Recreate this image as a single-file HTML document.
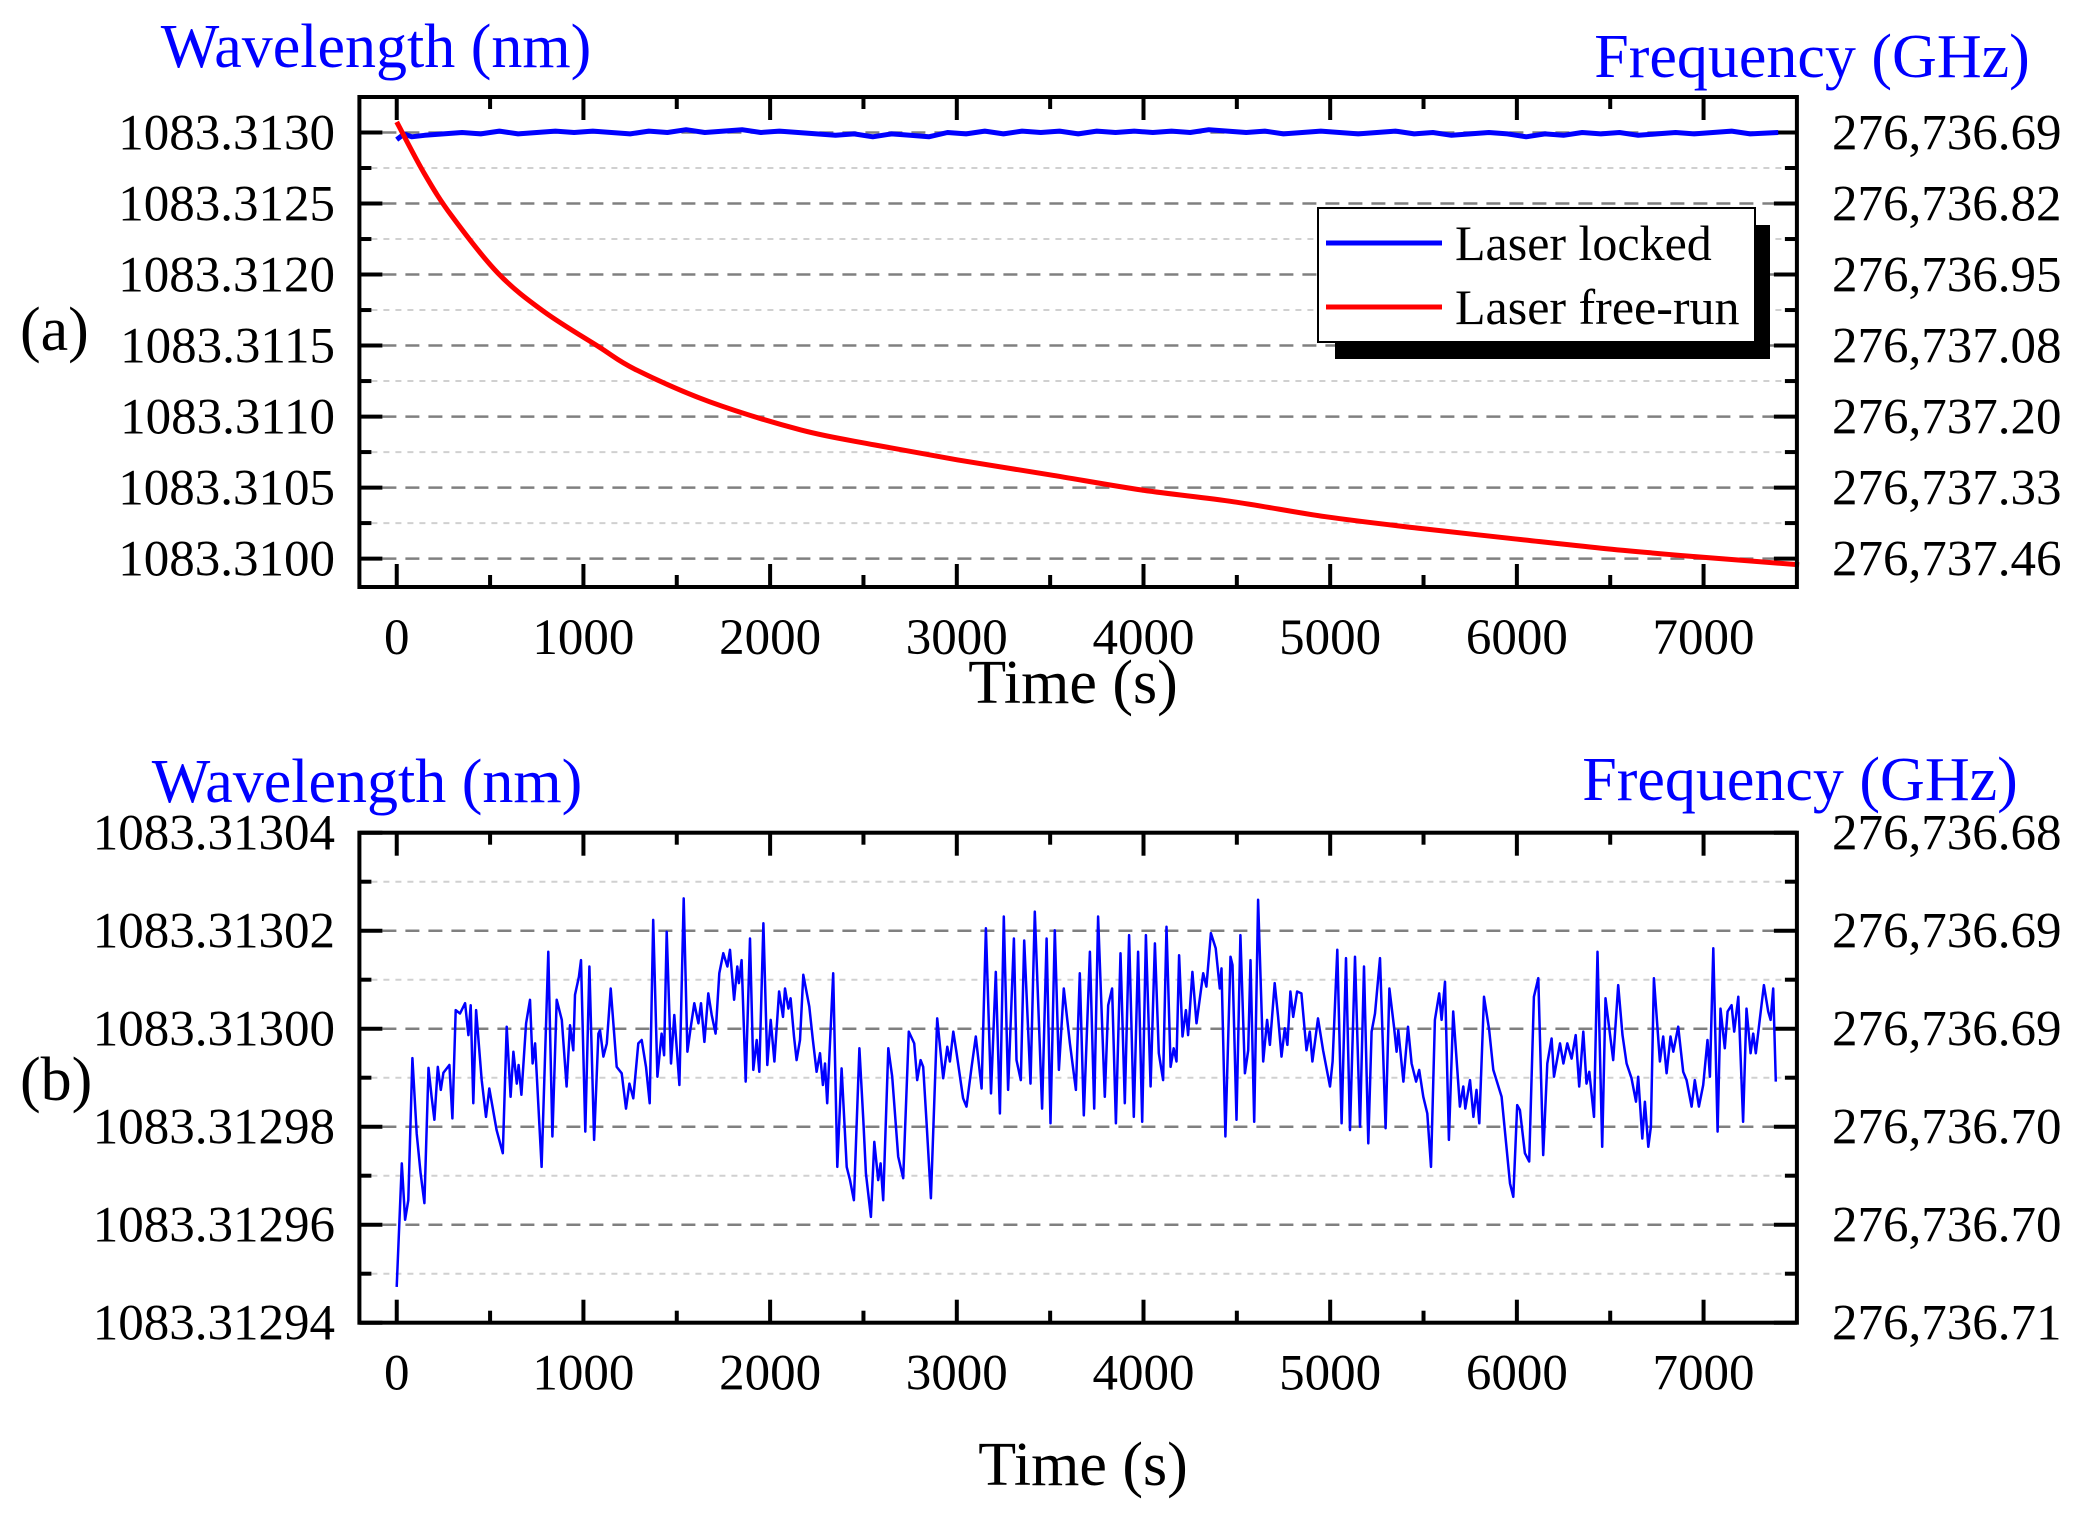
<!DOCTYPE html>
<html><head><meta charset="utf-8"><style>
html,body{margin:0;padding:0;background:#fff;}
svg{display:block;font-family:"Liberation Serif","Times New Roman",serif;}
</style></head><body>
<svg id="chart" width="2076" height="1518" viewBox="0 0 2076 1518" xmlns="http://www.w3.org/2000/svg">
<text x="20" y="350" font-size="62">(a)</text>
<text x="20" y="1100" font-size="62">(b)</text>
<text x="376" y="67" font-size="62" fill="#0000ff" text-anchor="middle">Wavelength (nm)</text>
<text x="1812" y="77" font-size="62" fill="#0000ff" text-anchor="middle">Frequency (GHz)</text>
<text x="1073" y="703" font-size="62" text-anchor="middle">Time (s)</text>
<text x="367" y="802" font-size="62" fill="#0000ff" text-anchor="middle">Wavelength (nm)</text>
<text x="1800" y="800" font-size="62" fill="#0000ff" text-anchor="middle">Frequency (GHz)</text>
<text x="1083" y="1485" font-size="62" text-anchor="middle">Time (s)</text>
<g id="gA"></g>
<g id="gB"></g>
<g id="legend">
<rect x="1335" y="225" width="435" height="134" fill="#000"/>
<rect x="1318" y="208" width="437" height="134" fill="#fff" stroke="#000" stroke-width="2"/>
<line x1="1326" y1="243" x2="1442" y2="243" stroke="#0000ff" stroke-width="5"/>
<text x="1455" y="260" font-size="50">Laser locked</text>
<line x1="1326" y1="307" x2="1442" y2="307" stroke="#ff0000" stroke-width="5"/>
<text x="1455" y="324" font-size="50">Laser free-run</text>
</g>
</svg>
<script>
// ---------- data ----------
const xTicks = [0,1000,2000,3000,4000,5000,6000,7000];
const aLeftTicks = [1083.3130,1083.3125,1083.3120,1083.3115,1083.3110,1083.3105,1083.3100];
const aLeftLabels = ["1083.3130","1083.3125","1083.3120","1083.3115","1083.3110","1083.3105","1083.3100"];
const aRightLabels = ["276,736.69","276,736.82","276,736.95","276,737.08","276,737.20","276,737.33","276,737.46"];
const bLeftTicks = [1083.31304,1083.31302,1083.31300,1083.31298,1083.31296,1083.31294];
const bLeftLabels = ["1083.31304","1083.31302","1083.31300","1083.31298","1083.31296","1083.31294"];
const bRightLabels = ["276,736.68","276,736.69","276,736.69","276,736.70","276,736.70","276,736.71"];

const freeTime = [0,148,296,542,788,1084,1281,1675,2167,2562,3005,3498,3990,4483,4975,5468,5961,6453,6946,7512];
const freeWl = [1083.313075,1083.31271,1083.31241,1083.31201,1083.31174,1083.31149,1083.31133,1083.311105,1083.310905,1083.3108,1083.310695,1083.31059,1083.310483,1083.3104,1083.310295,1083.310215,1083.310143,1083.310073,1083.310015,1083.309956];

const lockTime = [0,40,80,150,250,350,450,550,650,750,850,950,1050,1150,1250,1350,1450,1550,1650,1750,1850,1950,2050,2150,2250,2350,2450,2550,2650,2750,2850,2950,3050,3150,3250,3350,3450,3550,3650,3750,3850,3950,4050,4150,4250,4350,4450,4550,4650,4750,4850,4950,5050,5150,5250,5350,5450,5550,5650,5750,5850,5950,6050,6150,6250,6350,6450,6550,6650,6750,6850,6950,7050,7150,7250,7400];
const lockWl = [1083.31295,1083.31299,1083.31297,1083.31298,1083.31299,1083.31300,1083.31299,1083.31301,1083.31299,1083.31300,1083.31301,1083.31300,1083.31301,1083.31300,1083.31299,1083.31301,1083.31300,1083.31302,1083.31300,1083.31301,1083.31302,1083.31300,1083.31301,1083.31300,1083.31299,1083.31298,1083.31299,1083.31297,1083.31299,1083.31298,1083.31297,1083.31300,1083.31299,1083.31301,1083.31299,1083.31301,1083.31300,1083.31301,1083.31299,1083.31301,1083.31300,1083.31301,1083.31300,1083.31301,1083.31300,1083.31302,1083.31301,1083.31300,1083.31301,1083.31299,1083.31300,1083.31301,1083.31300,1083.31299,1083.31300,1083.31301,1083.31299,1083.31300,1083.31298,1083.31299,1083.31300,1083.31299,1083.31297,1083.31299,1083.31298,1083.31300,1083.31299,1083.31300,1083.31298,1083.31299,1083.31300,1083.31299,1083.31300,1083.31301,1083.31299,1083.31300];

// panel b: offsets from 1083.31300 nm in units of 1e-5 nm
const bBase = 1083.31300;
const bTime = [0,27,45,62,84,107,128,148,170,187,202,220,236,250,282,298,316,339,366,384,396,410,425,455,478,496,535,568,589,610,625,643,653,668,693,714,728,741,776,812,834,857,884,910,928,946,955,976,987,1010,1032,1057,1080,1089,1107,1125,1146,1178,1205,1228,1246,1267,1294,1312,1335,1355,1374,1396,1419,1432,1446,1469,1487,1514,1537,1557,1574,1594,1616,1630,1648,1669,1687,1708,1728,1749,1771,1785,1807,1824,1833,1847,1869,1892,1910,1928,1942,1964,1985,2003,2023,2048,2069,2080,2098,2110,2128,2142,2160,2178,2210,2228,2249,2267,2283,2294,2306,2338,2360,2383,2410,2428,2449,2478,2499,2513,2540,2558,2579,2592,2606,2633,2654,2686,2713,2743,2772,2788,2806,2820,2838,2861,2895,2927,2949,2963,2981,2999,3034,3052,3079,3102,3133,3156,3183,3209,3231,3252,3275,3306,3320,3343,3361,3395,3418,3457,3481,3502,3525,3547,3573,3606,3638,3659,3680,3713,3736,3757,3793,3811,3832,3852,3877,3900,3923,3948,3971,3993,4013,4038,4061,4082,4105,4123,4145,4162,4177,4191,4209,4227,4239,4262,4284,4320,4337,4361,4387,4409,4418,4439,4466,4477,4498,4519,4543,4561,4573,4593,4614,4641,4662,4677,4703,4721,4739,4757,4771,4787,4802,4823,4846,4873,4891,4905,4935,4962,4999,5013,5038,5061,5085,5106,5133,5160,5181,5204,5222,5240,5267,5297,5317,5342,5356,5365,5392,5417,5436,5460,5477,5499,5520,5540,5561,5584,5597,5615,5636,5659,5695,5713,5724,5749,5767,5784,5799,5824,5852,5874,5918,5963,5981,6002,6016,6043,6066,6091,6115,6141,6163,6186,6199,6231,6249,6270,6293,6315,6334,6356,6373,6388,6413,6432,6457,6475,6516,6543,6566,6588,6614,6638,6650,6672,6686,6704,6718,6734,6766,6784,6802,6823,6838,6864,6891,6909,6936,6953,6975,6998,7021,7034,7052,7075,7091,7114,7129,7150,7164,7186,7212,7230,7252,7266,7280,7302,7323,7346,7359,7373,7387];
const bOffset = [-5.27,-2.75,-3.9,-3.5,-0.6,-2.14,-2.95,-3.56,-0.8,-1.39,-1.86,-0.78,-1.25,-0.9,-0.74,-1.83,0.38,0.31,0.52,-0.13,0.48,-1.52,0.38,-1.05,-1.8,-1.22,-2.07,-2.54,0.04,-1.39,-0.47,-1.12,-0.74,-1.35,0.11,0.59,-0.71,-0.3,-2.82,1.57,-2.2,0.59,0.18,-1.18,0.07,-0.44,0.69,1.06,1.4,-2.1,1.27,-2.27,-0.1,-0.03,-0.57,-0.3,0.82,-0.78,-0.91,-1.63,-1.12,-1.42,-0.3,-0.23,-0.78,-1.52,2.22,-0.98,-0.1,-0.54,1.98,-0.71,0.28,-1.15,2.66,-0.47,0.01,0.52,0.11,0.52,-0.27,0.72,0.28,-0.1,1.13,1.54,1.27,1.61,0.59,1.27,0.93,1.4,-1.08,1.84,-0.84,-0.23,-0.88,2.15,-0.74,0.18,-0.67,0.76,0.24,0.82,0.41,0.62,-0.16,-0.64,-0.23,1.1,0.45,-0.2,-0.88,-0.5,-1.15,-0.71,-1.52,1.13,-2.82,-0.81,-2.82,-3.09,-3.5,-0.4,-1.86,-2.95,-3.84,-2.31,-3.09,-2.75,-3.5,-0.4,-0.98,-2.61,-3.05,-0.06,-0.3,-1.05,-0.64,-0.78,-1.93,-3.46,0.21,-1.01,-0.37,-0.67,-0.06,-0.5,-1.42,-1.59,-0.78,-0.16,-1.22,2.05,-1.32,1.16,-1.73,2.29,-1.25,1.84,-0.64,-1.05,1.8,-1.12,2.39,-1.63,1.84,-1.93,2.01,-0.84,0.82,-0.3,-1.25,1.13,-1.77,1.57,-1.63,2.29,-1.39,0.48,0.82,-1.93,1.54,-1.52,1.91,-1.8,1.57,-1.9,1.91,-1.18,1.74,-0.5,-1.05,2.08,-0.78,-0.4,-0.67,1.5,-0.16,0.38,-0.13,1.16,0.11,1.13,0.86,1.95,1.64,0.82,1.23,-2.2,1.47,1.3,-1.86,1.91,-0.91,-0.44,1.4,-1.9,2.63,-0.67,0.18,-0.33,0.93,0.24,-0.57,0.01,-0.33,0.76,0.24,0.76,0.72,-0.44,-0.06,-0.67,0.21,-0.44,-1.18,-0.67,1.61,-1.93,1.44,-2.07,1.47,-2.0,1.27,-2.34,-0.06,0.31,1.44,-2.03,0.82,0.04,-0.47,-0.03,-1.08,0.04,-0.71,-1.08,-0.84,-1.39,-1.73,-2.82,0.18,0.72,0.18,0.96,-2.27,0.35,-1.59,-1.18,-1.63,-1.05,-1.8,-1.25,-1.93,0.65,-0.03,-0.84,-1.39,-3.16,-3.43,-1.56,-1.66,-2.54,-2.71,0.65,1.03,-2.58,-0.71,-0.2,-0.98,-0.3,-0.71,-0.3,-0.61,-0.13,-1.18,-0.06,-1.12,-0.88,-1.8,1.57,-2.41,0.62,-0.64,0.89,-0.13,-0.71,-1.01,-1.49,-0.98,-2.24,-1.49,-2.41,-2.0,1.03,-0.67,-0.16,-0.91,-0.16,-0.47,0.04,-0.88,-1.05,-1.59,-1.05,-1.59,-1.15,-0.23,-0.98,1.64,-2.1,0.41,-0.4,0.35,0.48,-0.06,0.65,-1.9,0.41,-0.5,-0.1,-0.5,0.21,0.89,0.35,0.18,0.82,-1.08];

// ---------- axis functions ----------
const X0 = 359.4, X1 = 1796.9, TMIN = -200, TMAX = 7500;
function xs(t){ return X0 + (t - TMIN) / (TMAX - TMIN) * (X1 - X0); }
const A_TOP = 97, A_BOT = 587, A_VMAX = 1083.31325, A_VMIN = 1083.30980;
function yA(v){ return A_TOP + (A_VMAX - v) / (A_VMAX - A_VMIN) * (A_BOT - A_TOP); }
const B_TOP = 832.7, B_BOT = 1322.7, B_VMAX = 1083.31304, B_VMIN = 1083.31294;
function yB(v){ return B_TOP + (B_VMAX - v) / (B_VMAX - B_VMIN) * (B_BOT - B_TOP); }

const NS = "http://www.w3.org/2000/svg";
function mk(parent, tag, attrs, txt){
  const e = document.createElementNS(NS, tag);
  for (const k in attrs) e.setAttribute(k, attrs[k]);
  if (txt !== undefined) e.textContent = txt;
  parent.appendChild(e);
  return e;
}

function buildPanel(g, top, bot, yf, majors, minors, leftLabels, rightLabels, key){
  minors.forEach(v => {
    const l = mk(g, "line", {x1:X0, x2:X1, y1:yf(v), y2:yf(v), stroke:"#d0d0d0", "stroke-width":2, "stroke-dasharray":"6 6"});
    
    
  });
  majors.forEach(v => {
    const l = mk(g, "line", {x1:X0, x2:X1, y1:yf(v), y2:yf(v), stroke:"#808080", "stroke-width":2.5, "stroke-dasharray":"14 9"});
    
    
  });
  majors.forEach((v, i) => {
    const y = yf(v);
    const t1 = mk(g, "line", {x1:X0, x2:X0+23, y1:y, y2:y, stroke:"#000", "stroke-width":4});
    
    
    const t2 = mk(g, "line", {x1:X1-23, x2:X1, y1:y, y2:y, stroke:"#000", "stroke-width":4});
    
    
    const lt = mk(g, "text", {x:335, y:y+17, "font-size":51, "text-anchor":"end"}, leftLabels[i]);
    
    
    const rt = mk(g, "text", {x:1832, y:y+17, "font-size":51}, rightLabels[i]);
    
    
  });
  minors.forEach(v => {
    const y = yf(v);
    const t1 = mk(g, "line", {x1:X0, x2:X0+12, y1:y, y2:y, stroke:"#000", "stroke-width":4});
    
    
    const t2 = mk(g, "line", {x1:X1-12, x2:X1, y1:y, y2:y, stroke:"#000", "stroke-width":4});
    
    
  });
  for (let t = 0; t <= 7000; t += 500){
    const major = (t % 1000 === 0);
    const len = major ? 23 : 12;
    const x = xs(t);
    const b = mk(g, "line", {x1:x, x2:x, y1:bot, y2:bot-len, stroke:"#000", "stroke-width":4});
    
    
    const tp = mk(g, "line", {x1:x, x2:x, y1:top, y2:top+len, stroke:"#000", "stroke-width":4});
    
    
  }
  xTicks.forEach(t => {
    const lb = mk(g, "text", {x:xs(t), y:bot+67, "font-size":51, "text-anchor":"middle"}, String(t));
    
    
  });
}

function polyline(g, ts, vs, yf, color, w, name){
  const pts = ts.map((t, i) => xs(t).toFixed(1) + "," + yf(vs[i]).toFixed(1)).join(" ");
  const p = mk(g, "polyline", {points:pts, fill:"none", stroke:color, "stroke-width":w, "stroke-linejoin":"round"});
  
  
  return p;
}
function smoothPath(g, ts, vs, yf, color, w, name){
  const P = ts.map((t, i) => [xs(t), yf(vs[i])]);
  let d = "M" + P[0][0].toFixed(1) + "," + P[0][1].toFixed(1);
  for (let i = 0; i < P.length - 1; i++){
    const p0 = P[Math.max(0, i-1)], p1 = P[i], p2 = P[i+1], p3 = P[Math.min(P.length-1, i+2)];
    const c1 = [p1[0] + (p2[0]-p0[0])/6, p1[1] + (p2[1]-p0[1])/6];
    const c2 = [p2[0] - (p3[0]-p1[0])/6, p2[1] - (p3[1]-p1[1])/6];
    d += " C" + c1.map(v=>v.toFixed(1)).join(",") + " " + c2.map(v=>v.toFixed(1)).join(",") + " " + p2.map(v=>v.toFixed(1)).join(",");
  }
  const p = mk(g, "path", {d:d, fill:"none", stroke:color, "stroke-width":w, "stroke-linejoin":"round"});
  
  
  return p;
}

function frame(g, top, bot, name){
  const r = mk(g, "rect", {x:X0, y:top, width:X1-X0, height:bot-top, fill:"none", stroke:"#000", "stroke-width":4});
  
  
}

const gA = document.getElementById("gA");
const aMinors = [1083.31275,1083.31225,1083.31175,1083.31125,1083.31075,1083.31025];
buildPanel(gA, A_TOP, A_BOT, yA, aLeftTicks, aMinors, aLeftLabels, aRightLabels, "panel-a");
polyline(gA, lockTime, lockWl, yA, "#0000ff", 5, "series-laser-locked");
smoothPath(gA, freeTime, freeWl, yA, "#ff0000", 5, "series-laser-free-run");
frame(gA, A_TOP, A_BOT, "panel-a-plot-frame");

const gB = document.getElementById("gB");
const bMinors = [1083.31303,1083.31301,1083.31299,1083.31297,1083.31295];
buildPanel(gB, B_TOP, B_BOT, yB, bLeftTicks, bMinors, bLeftLabels, bRightLabels, "panel-b");
const bVals = bOffset.map(d => bBase + d * 1e-5);
polyline(gB, bTime, bVals, yB, "#0000ff", 2.5, "series-locked-detail");
frame(gB, B_TOP, B_BOT, "panel-b-plot-frame");
</script>
</body></html>
